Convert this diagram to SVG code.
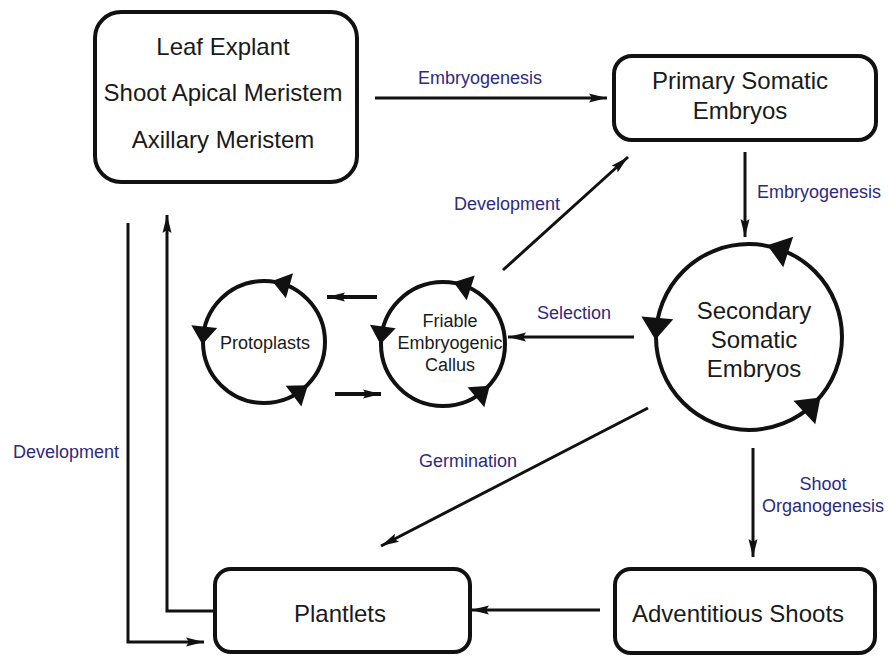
<svg xmlns="http://www.w3.org/2000/svg" xmlns:xlink="http://www.w3.org/1999/xlink" width="888" height="656" viewBox="0 0 888 656">
  <style>
    .box { fill: #fff; stroke: #111; stroke-width: 4; }
    .cyc { fill: none; stroke: #111; stroke-width: 4; }
    .t { font-family: "Liberation Sans", Arial, sans-serif; fill: #1a1a1a; text-anchor: middle; }
    .big { font-size: 24px; }
    .sm { font-size: 18px; }
    .lab { font-family: "Liberation Sans", Arial, sans-serif; font-size: 18px; fill: #2e2a7e; text-anchor: middle; }
    .ln { fill: none; stroke: #111; stroke-width: 3; marker-end: url(#arr); }
    .lnf { fill: none; stroke: #111; stroke-width: 3; }
    .thick { fill: none; stroke: #111; stroke-width: 4; marker-end: url(#arr); }
    .head { fill: #111; }
  </style>
  <defs>
    <marker id="arr" markerUnits="userSpaceOnUse" markerWidth="20" markerHeight="12" viewBox="0 -6 20 12" refX="18" refY="0" orient="auto">
      <path d="M0,-4.5 L18,0 L0,4.5 L3,0 z" fill="#111"/>
    </marker>
    <path id="hBig" d="M-16,11 L16,11 L0,-11 z"/>
    <path id="hSm" d="M-13,9 L13,9 L0,-9 z"/>
  </defs>

  <g id="connectors">
    <path class="ln" d="M375,98 L607,98"/>
    <path class="ln" d="M745,152 L745,237"/>
    <path class="ln" d="M634,337 L508,337"/>
    <path class="ln" d="M503,270 L628,157"/>
    <path class="thick" d="M377,297 L327,297"/>
    <path class="thick" d="M335,394 L381,394"/>
    <path class="ln" d="M648,408 L381,546"/>
    <path class="ln" d="M753,448 L753,557"/>
    <path class="ln" d="M600,610 L471,610"/>
    <path class="ln" d="M215,611 L167,611 L167,215"/>
    <path class="ln" d="M128,223 L128,642 L204,642"/>
  </g>

  <g id="labels">
    <text class="lab" x="480" y="84">Embryogenesis</text>
    <text class="lab" x="757" y="198" style="text-anchor:start">Embryogenesis</text>
    <text class="lab" x="507" y="210">Development</text>
    <text class="lab" x="574" y="319">Selection</text>
    <text class="lab" x="468" y="467">Germination</text>
    <text class="lab" x="823" y="490">Shoot</text>
    <text class="lab" x="823" y="512">Organogenesis</text>
    <text class="lab" x="66" y="458">Development</text>
  </g>

  <g id="leaf-explant">
    <rect class="box" x="95" y="12" width="262" height="170" rx="26"/>
    <text class="t big" x="223" y="55">Leaf Explant</text>
    <text class="t big" x="223" y="101">Shoot Apical Meristem</text>
    <text class="t big" x="223" y="148">Axillary Meristem</text>
  </g>

  <g id="primary-somatic-embryos">
    <rect class="box" x="614" y="56" width="262" height="84" rx="18"/>
    <text class="t big" x="740" y="89">Primary Somatic</text>
    <text class="t big" x="740" y="119">Embryos</text>
  </g>

  <g id="secondary-somatic-embryos">
    <circle class="cyc" cx="749" cy="337" r="93"/>
    <use xlink:href="#hBig" class="head" transform="translate(749,337) rotate(-72) translate(93,0)"/>
    <use xlink:href="#hBig" class="head" transform="translate(749,337) rotate(185) translate(93,0)"/>
    <use xlink:href="#hBig" class="head" transform="translate(749,337) rotate(47) translate(93,0)"/>
    <text class="t big" x="754" y="319">Secondary</text>
    <text class="t big" x="754" y="348">Somatic</text>
    <text class="t big" x="754" y="377">Embryos</text>
  </g>

  <g id="friable-embryogenic-callus">
    <circle class="cyc" cx="443" cy="344" r="62"/>
    <use xlink:href="#hSm" class="head" transform="translate(443,344) rotate(-72) translate(62,0)"/>
    <use xlink:href="#hSm" class="head" transform="translate(443,344) rotate(188) translate(62,0)"/>
    <use xlink:href="#hSm" class="head" transform="translate(443,344) rotate(50) translate(62,0)"/>
    <text class="t sm" x="450" y="327">Friable</text>
    <text class="t sm" x="450" y="349">Embryogenic</text>
    <text class="t sm" x="450" y="371">Callus</text>
  </g>

  <g id="protoplasts">
    <circle class="cyc" cx="264" cy="342" r="61"/>
    <use xlink:href="#hSm" class="head" transform="translate(264,342) rotate(-74) translate(61,0)"/>
    <use xlink:href="#hSm" class="head" transform="translate(264,342) rotate(186) translate(61,0)"/>
    <use xlink:href="#hSm" class="head" transform="translate(264,342) rotate(53) translate(61,0)"/>
    <text class="t sm" x="265" y="349">Protoplasts</text>
  </g>

  <g id="plantlets">
    <rect class="box" x="215" y="569" width="255" height="83" rx="16"/>
    <text class="t big" x="340" y="622">Plantlets</text>
  </g>

  <g id="adventitious-shoots">
    <rect class="box" x="615" y="569" width="260" height="84" rx="16"/>
    <text class="t big" x="738" y="622">Adventitious Shoots</text>
  </g>
</svg>
